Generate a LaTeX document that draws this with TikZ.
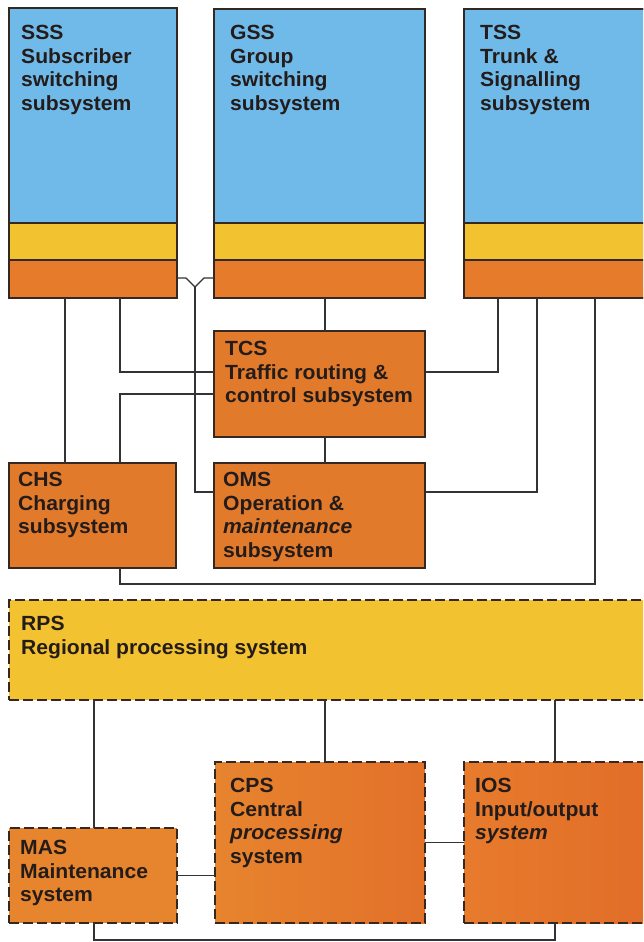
\documentclass[tikz,border=0pt]{standalone}
\usepackage{fontspec}
\setmainfont{Liberation Sans}[FakeStretch=1.03]
\definecolor{blueC}{RGB}{112,186,234}
\definecolor{yelC}{RGB}{242,194,49}
\definecolor{orC}{RGB}{231,123,44}
\definecolor{orB}{RGB}{226,122,44}
\definecolor{orL}{RGB}{231,132,46}
\definecolor{orD}{RGB}{225,108,40}
\definecolor{edgeC}{RGB}{52,40,32}
\definecolor{lineC}{RGB}{50,50,55}
\definecolor{txtC}{RGB}{36,28,26}
\begin{document}
\begin{tikzpicture}[x=1pt,y=-1pt,
  box/.style={draw=edgeC,line width=1.4pt,anchor=north west,inner sep=0,outer sep=0},
  dbox/.style={box,dash pattern=on 10pt off 4pt},
  conn/.style={draw=lineC,line width=1.2pt},
  lbl/.style={anchor=north west,inner sep=0,align=left,text=txtC,
    font=\fontsize{20.5}{23.5}\selectfont\bfseries}]
\clip (0,0) rectangle (643,942);
\fill[white] (0,0) rectangle (643,942);
% column coordinates
\coordinate (c65) at (65,0);
\coordinate (c94) at (94,0);
\coordinate (c120) at (120,0);
\coordinate (c195) at (195,0);
\coordinate (c325) at (325,0);
\coordinate (c498) at (498,0);
\coordinate (c537) at (537,0);
\coordinate (c555) at (555,0);
\coordinate (c595) at (595,0);
\coordinate (b1) at (120,584);
\coordinate (b2) at (0,940);
\coordinate (yj) at (195,287);
\coordinate (yl) at (186,278);
\coordinate (yr) at (204,278);

% ---------- top three subsystems ----------
\node[box,fill=blueC,minimum width=168pt,minimum height=290pt] (sss) at (9,8) {};
\node[box,fill=blueC,minimum width=211pt,minimum height=289pt] (gss) at (214,9) {};
\node[box,fill=blueC,minimum width=200pt,minimum height=289pt] (tss) at (464,9) {};
\foreach \n in {sss,gss,tss}{
  \fill[yelC] ([yshift=75pt]\n.south west) rectangle ([yshift=38pt]\n.south east);
  \fill[orC] ([yshift=38pt]\n.south west) rectangle (\n.south east);
  \draw[edgeC,line width=1.3pt] ([yshift=75pt]\n.south west) -- ([yshift=75pt]\n.south east);
  \draw[edgeC,line width=1.3pt] ([yshift=38pt]\n.south west) -- ([yshift=38pt]\n.south east);
  \draw[edgeC,line width=1.4pt] (\n.north west) rectangle (\n.south east);
}

% ---------- middle boxes ----------
\node[box,fill=orB,minimum width=211pt,minimum height=106pt] (tcs) at (214,331) {};
\node[box,fill=orB,minimum width=167pt,minimum height=105pt] (chs) at (9,463) {};
\node[box,fill=orB,minimum width=211pt,minimum height=105pt] (oms) at (214,463) {};

% ---------- dashed systems ----------
\node[dbox,fill=yelC,minimum width=651pt,minimum height=100pt] (rps) at (9,600) {};
\node[dbox,left color=orL,right color=orD!80!orL,minimum width=210pt,minimum height=161pt] (cps) at (215,762) {};
\node[dbox,left color=orC,right color=orD,minimum width=200pt,minimum height=161pt] (ios) at (464,762) {};
\node[dbox,fill=orL,minimum width=168pt,minimum height=95pt] (mas) at (9,828) {};

% ---------- connectors ----------
\draw[conn] (sss.south -| c65) -- (chs.north -| c65);
\draw[conn] (sss.south -| c120) |- ([yshift=12pt]tcs.west);
\draw[conn] ([yshift=-10pt]tcs.west) -| (chs.north -| c120);
\draw[conn] (sss.east |- yl) -- (yl) -- (yj) -- (yr) -- (gss.west |- yr);
\draw[conn] (yj) |- ([yshift=23.5pt]oms.west);
\draw[conn] (gss.south -| c325) -- (tcs.north -| c325);
\draw[conn] (tcs.south -| c325) -- (oms.north -| c325);
\draw[conn] ([yshift=12pt]tcs.east) -| (tss.south -| c498);
\draw[conn] ([yshift=23.5pt]oms.east) -| (tss.south -| c537);
\draw[conn] (tss.south -| c595) |- (b1) -- (chs.south -| b1);
\draw[conn] (rps.south -| c94) -- (mas.north -| c94);
\draw[conn] (rps.south -| c325) -- (cps.north -| c325);
\draw[conn] (rps.south -| c555) -- (ios.north -| c555);
\draw[conn] (mas.east) -- (cps.west |- mas.east);
\draw[conn] (cps.east) -- (ios.west |- cps.east);
\draw[conn] (mas.south -| c94) -- (c94 |- b2) -- (c555 |- b2) -- (ios.south -| c555);

% ---------- labels ----------
\node[lbl] (sssT) at (21,25) {SSS\\Subscriber\\switching\\subsystem};
\node[lbl] (gssT) at (230,25) {GSS\\Group\\switching\\subsystem};
\node[lbl] (tssT) at (480,25) {TSS\\Trunk \&\\Signalling\\subsystem};
\node[lbl] (tcsT) at (225,341) {TCS\\Traffic routing \&\\control subsystem};
\node[lbl] (chsT) at (18,472) {CHS\\Charging\\subsystem};
\node[lbl] (omsT) at (223,472) {OMS\\Operation \&\\\textit{maintenance}\\subsystem};
\node[lbl] (rpsT) at (21,616) {RPS\\Regional processing system};
\node[lbl] (cpsT) at (230,778) {CPS\\Central\\\textit{processing}\\system};
\node[lbl] (iosT) at (475,778) {IOS\\Input/output\\\textit{system}};
\node[lbl] (masT) at (20,840) {MAS\\Maintenance\\system};
\end{tikzpicture}
\end{document}
